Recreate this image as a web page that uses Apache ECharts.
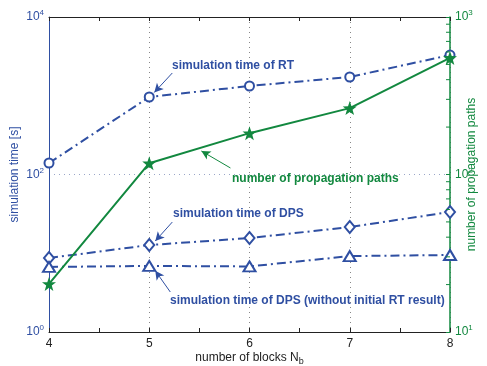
<!DOCTYPE html>
<html><head><meta charset="utf-8">
<script src="https://cdn.jsdelivr.net/npm/echarts@6/dist/echarts.min.js"></script>
<style>html,body{margin:0;padding:0;background:#fff}#c{width:487px;height:366px}</style>
</head><body><div id="c"></div>
<script>
var blocks = [4, 5, 6, 7, 8];
var timeRT = [140, 964, 1330, 1730, 3290];
var timeDPS = [8.7, 12.7, 15.6, 21.5, 33.4];
var timeDPSnoRT = [6.7, 6.9, 6.8, 9.2, 9.5];
var propPaths = [20.2, 118, 183, 264, 550];
var rightMinorTicks = [20,30,40,50,60,70,80,90,200,300,400,500,600,700,800,900];

var BLUE = '#2f4fa2', GREEN = '#12883f';
function pairs(ys){ return blocks.map(function(x,i){return [x, ys[i]];}); }
function sup(v){ var e = Math.round(Math.log10(v)); return '{b|10}{s|' + e + '}'; }
var STAR = 'path://M0,-10L2.35,-3.24L9.51,-3.09L3.8,1.24L5.88,8.09L0,4L-5.88,8.09L-3.8,1.24L-9.51,-3.09L-2.35,-3.24Z';
var dashDot = [9, 4, 2, 4];
function arrow(color, from, to){
  return {silent:true, symbol:['none','arrow'], symbolSize:[7,9], animation:false,
    label:{show:false}, lineStyle:{color:color, width:1, type:'solid'},
    data:[[{coord:from},{coord:to}]]};
}
var textFont = 'bold 12px "Liberation Sans", Arial, sans-serif';
var chart = echarts.init(document.getElementById('c'), null, {renderer:'canvas'});
chart.setOption({
  animation:false,
  grid:{left:49, right:37, top:17, bottom:34, containLabel:false, outerBoundsMode:'none'},
  xAxis:[{
    type:'value', min:4, max:8, interval:1, position:'bottom',
    name:'{a|number of blocks N}{s|b}', nameLocation:'middle', nameGap:17, nameMoveOverlap:false,
    nameTextStyle:{rich:{a:{fontSize:12,color:'#222',fontFamily:'Liberation Sans'}, s:{fontSize:9,color:'#222',padding:[8,0,0,0],fontFamily:'Liberation Sans'}}},
    axisLine:{lineStyle:{color:'#222',width:1}},
    axisTick:{inside:true,length:4,lineStyle:{color:'#222'}},
    minorTick:{show:true,splitNumber:2,length:4,lineStyle:{color:'#222'}},
    axisLabel:{color:'#222',fontSize:12,margin:6,fontFamily:'Liberation Sans'},
    splitLine:{show:true,lineStyle:{color:'#888',type:[1,4],width:1}}
  },{
    type:'value', min:4, max:8, interval:1, position:'top',
    axisLine:{lineStyle:{color:'#222',width:1}},
    axisTick:{inside:true,length:4,lineStyle:{color:'#222'}},
    minorTick:{show:true,splitNumber:2,length:4,lineStyle:{color:'#222'}},
    axisLabel:{show:false}, splitLine:{show:false}
  }],
  yAxis:[{
    type:'log', logBase:10, min:1, max:10000, interval:2, position:'left',
    name:'simulation time [s]', nameLocation:'middle', nameGap:28, nameMoveOverlap:false,
    nameTextStyle:{color:BLUE,fontSize:12,fontFamily:'Liberation Sans'},
    axisLine:{show:true,lineStyle:{color:BLUE,width:1}},
    axisTick:{show:false},
    axisLabel:{formatter:sup,margin:5,rich:{b:{fontSize:12,color:BLUE,fontFamily:'Liberation Sans'},s:{fontSize:8,color:BLUE,padding:[0,0,8,0],fontFamily:'Liberation Sans'}}},
    splitLine:{show:true,lineStyle:{color:'#9aa6c8',type:[1,4],width:1}}
  },{
    type:'log', logBase:10, min:10, max:1000, interval:1, position:'right',
    name:'number of propagation paths', nameLocation:'middle', nameGap:16, nameMoveOverlap:false,
    nameTextStyle:{color:GREEN,fontSize:12,fontFamily:'Liberation Sans'},
    axisLine:{show:true,lineStyle:{color:GREEN,width:1.5}},
    axisTick:{show:true,inside:true,length:4,lineStyle:{color:GREEN}},
    axisLabel:{formatter:sup,margin:5,rich:{b:{fontSize:12,color:GREEN,fontFamily:'Liberation Sans'},s:{fontSize:8,color:GREEN,padding:[0,0,8,0],fontFamily:'Liberation Sans'}}},
    splitLine:{show:false}
  }],
  series:[{
    type:'custom', yAxisIndex:1, silent:true, z:5,
    data:rightMinorTicks.map(function(v){return [8, v];}),
    renderItem:function(params, api){
      var p = api.coord([api.value(0), api.value(1)]);
      return {type:'line', shape:{x1:p[0]-4,y1:p[1],x2:p[0],y2:p[1]}, style:{stroke:GREEN,lineWidth:1}};
    }
  },{
    name:'RT', type:'line', yAxisIndex:0, data:pairs(timeRT),
    symbol:'emptyCircle', symbolSize:9, lineStyle:{color:BLUE,width:2,type:dashDot},
    itemStyle:{color:BLUE,borderWidth:2},
    markLine:arrow(BLUE, [5.23, 1945], [5.05, 1100])
  },{
    name:'DPS', type:'line', yAxisIndex:0, data:pairs(timeDPS),
    symbol:'emptyDiamond', symbolSize:[10,12], lineStyle:{color:BLUE,width:2,type:dashDot},
    itemStyle:{color:BLUE,borderWidth:2},
    markLine:arrow(BLUE, [5.23, 24.9], [5.06, 14.3])
  },{
    name:'DPSnoRT', type:'line', yAxisIndex:0, data:pairs(timeDPSnoRT),
    symbol:'emptyTriangle', symbolSize:[12,10], lineStyle:{color:BLUE,width:2,type:dashDot},
    itemStyle:{color:BLUE,borderWidth:2},
    markLine:arrow(BLUE, [5.21, 3.22], [5.06, 6.0])
  },{
    name:'paths', type:'line', yAxisIndex:1, data:pairs(propPaths),
    symbol:STAR, symbolSize:14, lineStyle:{color:GREEN,width:2,type:'solid'},
    itemStyle:{color:GREEN}, z:4,
    markLine:arrow(GREEN, [5.81, 110], [5.52, 141])
  }],
  graphic:[
    {type:'text', left:172, top:60, z:100, style:{text:'simulation time of RT', font:textFont, fill:BLUE}},
    {type:'text', left:232, top:173, z:100, style:{text:'number of propagation paths', font:textFont, fill:GREEN}},
    {type:'text', left:173, top:208, z:100, style:{text:'simulation time of DPS', font:textFont, fill:BLUE}},
    {type:'text', left:170, top:295, z:100, style:{text:'simulation time of DPS (without initial RT result)', font:textFont, fill:BLUE}}
  ]
});
</script></body></html>
